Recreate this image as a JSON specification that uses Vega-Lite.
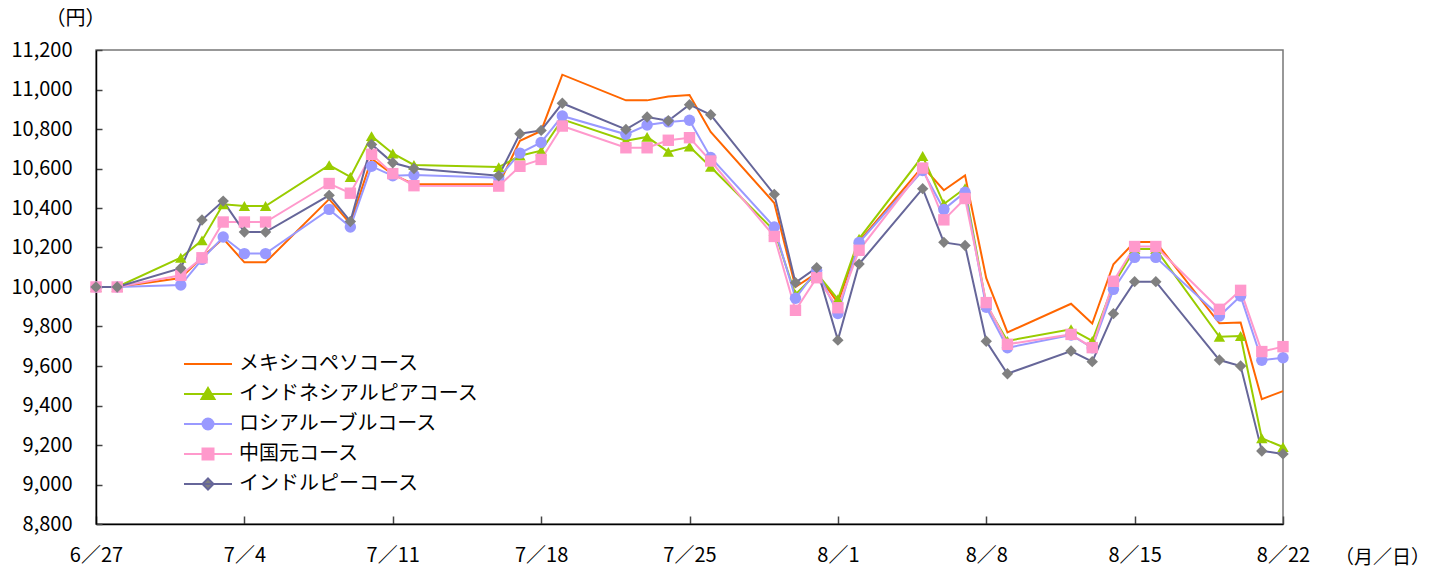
{
  "$schema": "https://vega.github.io/schema/vega-lite/v6.json",
  "width": 1187,
  "height": 474,
  "autosize": {"type": "none"},
  "padding": {"left": 96, "top": 50, "right": 156, "bottom": 49},
  "background": "white",
  "config": {
    "font": "Noto Sans CJK JP",
    "view": {"stroke": "#777777", "strokeWidth": 1.5}
  },
  "data": {
    "values": [
      {"date": "2013-06-27", "メキシコペソコース": 10000, "インドネシアルピアコース": 10000, "ロシアルーブルコース": 10000, "中国元コース": 10000, "インドルピーコース": 10000},
      {"date": "2013-06-28", "メキシコペソコース": 10000, "インドネシアルピアコース": 10000, "ロシアルーブルコース": 10000, "中国元コース": 10000, "インドルピーコース": 10000},
      {"date": "2013-07-01", "メキシコペソコース": 10045, "インドネシアルピアコース": 10148, "ロシアルーブルコース": 10010, "中国元コース": 10059, "インドルピーコース": 10095},
      {"date": "2013-07-02", "メキシコペソコース": 10150, "インドネシアルピアコース": 10236, "ロシアルーブルコース": 10140, "中国元コース": 10148, "インドルピーコース": 10339},
      {"date": "2013-07-03", "メキシコペソコース": 10245, "インドネシアルピアコース": 10419, "ロシアルーブルコース": 10253, "中国元コース": 10329, "インドルピーコース": 10435},
      {"date": "2013-07-04", "メキシコペソコース": 10125, "インドネシアルピアコース": 10410, "ロシアルーブルコース": 10169, "中国元コース": 10329, "インドルピーコース": 10278},
      {"date": "2013-07-05", "メキシコペソコース": 10125, "インドネシアルピアコース": 10410, "ロシアルーブルコース": 10169, "中国元コース": 10329, "インドルピーコース": 10278},
      {"date": "2013-07-08", "メキシコペソコース": 10445, "インドネシアルピアコース": 10617, "ロシアルーブルコース": 10393, "中国元コース": 10524, "インドルピーコース": 10464},
      {"date": "2013-07-09", "メキシコペソコース": 10320, "インドネシアルピアコース": 10557, "ロシアルーブルコース": 10304, "中国元コース": 10475, "インドルピーコース": 10332},
      {"date": "2013-07-10", "メキシコペソコース": 10650, "インドネシアルピアコース": 10764, "ロシアルーブルコース": 10611, "中国元コース": 10672, "インドルピーコース": 10722},
      {"date": "2013-07-11", "メキシコペソコース": 10570, "インドネシアルピアコース": 10676, "ロシアルーブルコース": 10563, "中国元コース": 10574, "インドルピーコース": 10629},
      {"date": "2013-07-12", "メキシコペソコース": 10520, "インドネシアルピアコース": 10618, "ロシアルーブルコース": 10567, "中国元コース": 10513, "インドルピーコース": 10600},
      {"date": "2013-07-16", "メキシコペソコース": 10520, "インドネシアルピアコース": 10607, "ロシアルーブルコース": 10553, "中国元コース": 10511, "インドルピーコース": 10563},
      {"date": "2013-07-17", "メキシコペソコース": 10740, "インドネシアルピアコース": 10665, "ロシアルーブルコース": 10678, "中国元コース": 10611, "インドルピーコース": 10776},
      {"date": "2013-07-18", "メキシコペソコース": 10790, "インドネシアルピアコース": 10690, "ロシアルーブルコース": 10732, "中国元コース": 10646, "インドルピーコース": 10793},
      {"date": "2013-07-19", "メキシコペソコース": 11075, "インドネシアルピアコース": 10849, "ロシアルーブルコース": 10866, "中国元コース": 10815, "インドルピーコース": 10930},
      {"date": "2013-07-22", "メキシコペソコース": 10945, "インドネシアルピアコース": 10741, "ロシアルーブルコース": 10773, "中国元コース": 10705, "インドルピーコース": 10798},
      {"date": "2013-07-23", "メキシコペソコース": 10945, "インドネシアルピアコース": 10760, "ロシアルーブルコース": 10820, "中国元コース": 10705, "インドルピーコース": 10861},
      {"date": "2013-07-24", "メキシコペソコース": 10965, "インドネシアルピアコース": 10684, "ロシアルーブルコース": 10836, "中国元コース": 10743, "インドルピーコース": 10842},
      {"date": "2013-07-25", "メキシコペソコース": 10972, "インドネシアルピアコース": 10711, "ロシアルーブルコース": 10844, "中国元コース": 10756, "インドルピーコース": 10923},
      {"date": "2013-07-26", "メキシコペソコース": 10785, "インドネシアルピアコース": 10608, "ロシアルーブルコース": 10656, "中国元コース": 10638, "インドルピーコース": 10872},
      {"date": "2013-07-29", "メキシコペソコース": 10425, "インドネシアルピアコース": 10285, "ロシアルーブルコース": 10304, "中国元コース": 10256, "インドルピーコース": 10469},
      {"date": "2013-07-30", "メキシコペソコース": 10000, "インドネシアルピアコース": 9962, "ロシアルーブルコース": 9943, "中国元コース": 9882, "インドルピーコース": 10022},
      {"date": "2013-07-31", "メキシコペソコース": 10070, "インドネシアルピアコース": 10070, "ロシアルーブルコース": 10085, "中国元コース": 10047, "インドルピーコース": 10098},
      {"date": "2013-08-01", "メキシコペソコース": 9920, "インドネシアルピアコース": 9938, "ロシアルーブルコース": 9866, "中国元コース": 9895, "インドルピーコース": 9731},
      {"date": "2013-08-02", "メキシコペソコース": 10230, "インドネシアルピアコース": 10244, "ロシアルーブルコース": 10225, "中国元コース": 10186, "インドルピーコース": 10116},
      {"date": "2013-08-05", "メキシコペソコース": 10610, "インドネシアルピアコース": 10663, "ロシアルーブルコース": 10590, "中国元コース": 10602, "インドルピーコース": 10498},
      {"date": "2013-08-06", "メキシコペソコース": 10490, "インドネシアルピアコース": 10420, "ロシアルーブルコース": 10393, "中国元コース": 10340, "インドルピーコース": 10226},
      {"date": "2013-08-07", "メキシコペソコース": 10565, "インドネシアルピアコース": 10500, "ロシアルーブルコース": 10480, "中国元コース": 10448, "インドルピーコース": 10210},
      {"date": "2013-08-08", "メキシコペソコース": 10045, "インドネシアルピアコース": 9910, "ロシアルーブルコース": 9897, "中国元コース": 9921, "インドルピーコース": 9725},
      {"date": "2013-08-09", "メキシコペソコース": 9770, "インドネシアルピアコース": 9727, "ロシアルーブルコース": 9692, "中国元コース": 9710, "インドルピーコース": 9561},
      {"date": "2013-08-12", "メキシコペソコース": 9915, "インドネシアルピアコース": 9786, "ロシアルーブルコース": 9757, "中国元コース": 9760, "インドルピーコース": 9676},
      {"date": "2013-08-13", "メキシコペソコース": 9815, "インドネシアルピアコース": 9727, "ロシアルーブルコース": 9692, "中国元コース": 9693, "インドルピーコース": 9622},
      {"date": "2013-08-14", "メキシコペソコース": 10115, "インドネシアルピアコース": 10012, "ロシアルーブルコース": 9988, "中国元コース": 10029, "インドルピーコース": 9865},
      {"date": "2013-08-15", "メキシコペソコース": 10228, "インドネシアルピアコース": 10192, "ロシアルーブルコース": 10150, "中国元コース": 10205, "インドルピーコース": 10027},
      {"date": "2013-08-16", "メキシコペソコース": 10228, "インドネシアルピアコース": 10192, "ロシアルーブルコース": 10150, "中国元コース": 10205, "インドルピーコース": 10027},
      {"date": "2013-08-19", "メキシコペソコース": 9816, "インドネシアルピアコース": 9748, "ロシアルーブルコース": 9853, "中国元コース": 9887, "インドルピーコース": 9630},
      {"date": "2013-08-20", "メキシコペソコース": 9820, "インドネシアルピアコース": 9752, "ロシアルーブルコース": 9954, "中国元コース": 9983, "インドルピーコース": 9600},
      {"date": "2013-08-21", "メキシコペソコース": 9432, "インドネシアルピアコース": 9234, "ロシアルーブルコース": 9629, "中国元コース": 9673, "インドルピーコース": 9170},
      {"date": "2013-08-22", "メキシコペソコース": 9473, "インドネシアルピアコース": 9190, "ロシアルーブルコース": 9642, "中国元コース": 9698, "インドルピーコース": 9155}
    ]
  },
  "transform": [
    {"fold": ["メキシコペソコース", "インドネシアルピアコース", "ロシアルーブルコース", "中国元コース", "インドルピーコース"], "as": ["series", "value"]}
  ],
  "encoding": {
    "x": {
      "field": "date",
      "type": "temporal",
      "scale": {
        "type": "utc",
        "domain": [
          {"year": 2013, "month": 6, "date": 27, "utc": true},
          {"year": 2013, "month": 8, "date": 22, "utc": true}
        ]
      },
      "axis": {
        "values": [
          {"year": 2013, "month": 6, "date": 27, "utc": true},
          {"year": 2013, "month": 7, "date": 4, "utc": true},
          {"year": 2013, "month": 7, "date": 11, "utc": true},
          {"year": 2013, "month": 7, "date": 18, "utc": true},
          {"year": 2013, "month": 7, "date": 25, "utc": true},
          {"year": 2013, "month": 8, "date": 1, "utc": true},
          {"year": 2013, "month": 8, "date": 8, "utc": true},
          {"year": 2013, "month": 8, "date": 15, "utc": true},
          {"year": 2013, "month": 8, "date": 22, "utc": true}
        ],
        "labelExpr": "utcFormat(datum.value, '%-m') + '／' + utcFormat(datum.value, '%-d')",
        "labelFontSize": 20,
        "labelColor": "black",
        "labelFlush": false,
        "labelOverlap": false,
        "labelPadding": 29,
        "grid": false,
        "domainColor": "black",
        "domainWidth": 1.5,
        "tickColor": "#444444",
        "tickWidth": 1.5,
        "tickSize": -8,
        "title": "（月／日）",
        "titleFontSize": 19,
        "titleFontWeight": "normal",
        "titleColor": "black",
        "titleX": 1286,
        "titleY": 33,
        "titleAlign": "center",
        "titleBaseline": "middle"
      }
    },
    "y": {
      "field": "value",
      "type": "quantitative",
      "scale": {"domain": [8800, 11200], "nice": false, "zero": false},
      "axis": {
        "values": [8800, 9000, 9200, 9400, 9600, 9800, 10000, 10200, 10400, 10600, 10800, 11000, 11200],
        "format": ",d",
        "labelFontSize": 20,
        "labelColor": "black",
        "labelPadding": 30,
        "grid": false,
        "domainColor": "black",
        "domainWidth": 1.5,
        "tickColor": "#444444",
        "tickWidth": 1.5,
        "tickSize": -6,
        "title": "（円）",
        "titleAngle": 0,
        "titleFontSize": 20,
        "titleFontWeight": "normal",
        "titleColor": "black",
        "titleX": -21,
        "titleY": -32,
        "titleAlign": "center",
        "titleBaseline": "middle"
      }
    }
  },
  "layer": [
    {
      "mark": {"type": "line", "strokeWidth": 2},
      "encoding": {
        "color": {
          "field": "series",
          "type": "nominal",
          "sort": ["メキシコペソコース", "インドネシアルピアコース", "ロシアルーブルコース", "中国元コース", "インドルピーコース"],
          "scale": {
            "domain": ["メキシコペソコース", "インドネシアルピアコース", "ロシアルーブルコース", "中国元コース", "インドルピーコース"],
            "range": ["#ff6600", "#99cc00", "#9999ff", "#ff99cc", "#666699"]
          },
          "legend": {
            "title": null,
            "orient": "none",
            "legendX": 101,
            "legendY": 303,
            "padding": 0,
            "symbolSize": 400,
            "symbolStrokeWidth": 2,
            "labelFontSize": 20,
            "labelColor": "black",
            "labelOffset": 20,
            "rowPadding": 9,
            "labelLimit": 400,
            "encode": {
              "symbols": {
                "update": {
                  "shape": {"signal": "datum.value === 'メキシコペソコース' ? 'M-2.4,0H2.4' : datum.value === 'インドネシアルピアコース' ? 'M-2.4,0H2.4M0,-0.6L0.65,0.5L-0.65,0.5Z' : datum.value === 'ロシアルーブルコース' ? 'M-2.4,0H2.4M0.55,0A0.55,0.55,0,1,1,-0.55,0A0.55,0.55,0,1,1,0.55,0Z' : datum.value === '中国元コース' ? 'M-2.4,0H2.4M-0.55,-0.55H0.55V0.55H-0.55Z' : 'M-2.4,0H2.4M0,-0.55L0.55,0L0,0.55L-0.55,0Z'"},
                  "fill": {"signal": "datum.value === 'インドネシアルピアコース' ? '#99cc00' : datum.value === 'ロシアルーブルコース' ? '#9999ff' : datum.value === '中国元コース' ? '#ff99cc' : datum.value === 'インドルピーコース' ? '#808080' : 'transparent'"},
                  "opacity": {"value": 1}
                }
              }
            }
          }
        }
      }
    },
    {
      "transform": [{"filter": "datum.series !== 'メキシコペソコース'"}],
      "mark": {"type": "point", "filled": true, "size": 130, "opacity": 1, "strokeWidth": 0},
      "encoding": {
        "fill": {
          "field": "series",
          "type": "nominal",
          "scale": {
            "domain": ["インドネシアルピアコース", "ロシアルーブルコース", "中国元コース", "インドルピーコース"],
            "range": ["#99cc00", "#9999ff", "#ff99cc", "#808080"]
          },
          "legend": null
        },
        "shape": {
          "field": "series",
          "type": "nominal",
          "scale": {
            "domain": ["インドネシアルピアコース", "ロシアルーブルコース", "中国元コース", "インドルピーコース"],
            "range": ["triangle-up", "circle", "square", "diamond"]
          },
          "legend": null
        }
      }
    }
  ]
}
